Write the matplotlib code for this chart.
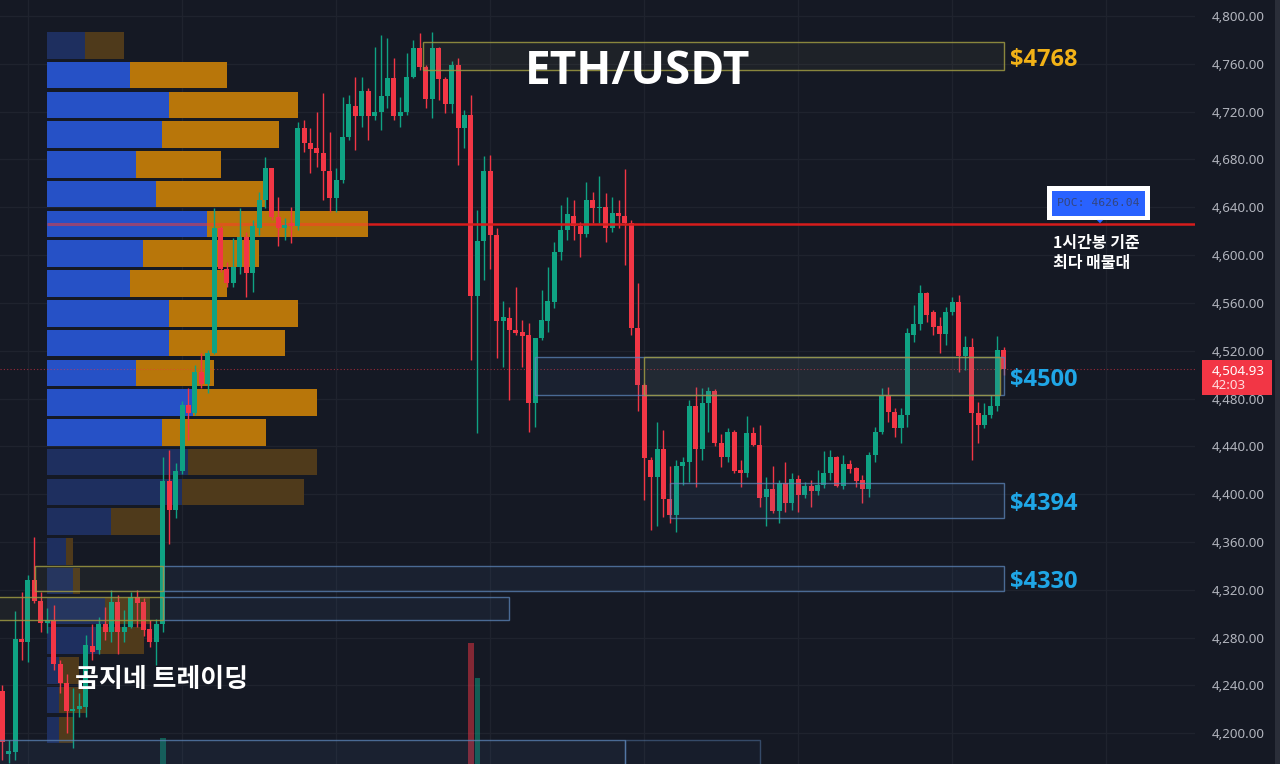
import numpy as np
import matplotlib
matplotlib.use("Agg")
import matplotlib.pyplot as plt
from matplotlib.patches import Rectangle, Polygon
from matplotlib import transforms

# ---------------- ETH/USDT hourly candles ----------------
opens = [4235, 4183, 4184, 4279, 4276, 4328, 4311, 4292, 4295, 4258,
         4242, 4219, 4220, 4222, 4273, 4270, 4291, 4285, 4310, 4285,
         4289, 4314, 4310, 4287, 4276, 4291, 4411, 4387, 4419, 4475,
         4468, 4502, 4492, 4518, 4623, 4588, 4577, 4590, 4615, 4585,
         4623, 4646, 4673, 4632, 4623, 4627, 4624, 4706, 4694, 4690,
         4685, 4670, 4648, 4663, 4699, 4725, 4716, 4737, 4716, 4720,
         4733, 4748, 4716, 4720, 4749, 4773, 4757, 4731, 4773, 4747,
         4726, 4759, 4706, 4717, 4566, 4612, 4670, 4617, 4545, 4547,
         4537, 4536, 4533, 4476, 4531, 4545, 4561, 4603, 4621, 4633,
         4624, 4618, 4646, 4639, 4640, 4623, 4635, 4633, 4627, 4539,
         4491, 4429, 4414, 4438, 4396, 4383, 4424, 4427, 4474, 4438,
         4476, 4486, 4443, 4431, 4452, 4420, 4418, 4451, 4441, 4398,
         4404, 4386, 4409, 4393, 4413, 4399, 4407, 4403, 4408, 4418,
         4431, 4407, 4425, 4422, 4412, 4404, 4433, 4452, 4483, 4469,
         4455, 4466, 4533, 4542, 4568, 4552, 4541, 4534, 4552, 4561,
         4516, 4523, 4468, 4458, 4466, 4474, 4521]
highs = [4240, 4194, 4302, 4318, 4332, 4364, 4318, 4305, 4307, 4261,
         4250, 4238, 4234, 4282, 4291, 4297, 4306, 4320, 4316, 4303,
         4318, 4320, 4313, 4295, 4296, 4431, 4437, 4426, 4478, 4489,
         4508, 4518, 4521, 4639, 4624, 4594, 4614, 4639, 4619, 4629,
         4653, 4682, 4673, 4649, 4631, 4640, 4711, 4713, 4706, 4720,
         4736, 4703, 4673, 4732, 4734, 4749, 4749, 4740, 4774, 4784,
         4782, 4765, 4732, 4769, 4780, 4786, 4759, 4787, 4774, 4749,
         4762, 4765, 4721, 4734, 4638, 4683, 4684, 4623, 4562, 4557,
         4573, 4546, 4543, 4531, 4571, 4590, 4611, 4642, 4649, 4646,
         4628, 4661, 4653, 4666, 4652, 4649, 4646, 4672, 4629, 4577,
         4493, 4431, 4460, 4454, 4424, 4429, 4431, 4479, 4490, 4489,
         4490, 4488, 4450, 4455, 4454, 4429, 4465, 4456, 4458, 4414,
         4424, 4412, 4427, 4418, 4416, 4410, 4412, 4420, 4436, 4437,
         4432, 4433, 4429, 4423, 4416, 4435, 4456, 4489, 4490, 4472,
         4472, 4539, 4558, 4575, 4569, 4554, 4548, 4557, 4565, 4567,
         4532, 4531, 4477, 4476, 4483, 4532, 4523]
lows = [4178, 4175, 4178, 4261, 4260, 4309, 4285, 4284, 4253, 4234,
        4200, 4188, 4214, 4214, 4261, 4266, 4278, 4276, 4266, 4276,
        4288, 4289, 4281, 4272, 4257, 4285, 4358, 4380, 4417, 4445,
        4466, 4489, 4485, 4517, 4586, 4573, 4573, 4584, 4565, 4569,
        4617, 4639, 4629, 4608, 4613, 4610, 4621, 4686, 4669, 4674,
        4646, 4636, 4636, 4660, 4696, 4688, 4707, 4696, 4713, 4705,
        4723, 4713, 4707, 4717, 4748, 4755, 4723, 4715, 4730, 4719,
        4719, 4675, 4690, 4512, 4451, 4579, 4588, 4514, 4506, 4479,
        4533, 4506, 4452, 4456, 4529, 4536, 4556, 4596, 4613, 4613,
        4598, 4615, 4627, 4627, 4611, 4619, 4623, 4592, 4533, 4470,
        4395, 4370, 4373, 4381, 4376, 4368, 4408, 4410, 4406, 4429,
        4452, 4440, 4423, 4427, 4418, 4406, 4414, 4440, 4389, 4373,
        4384, 4376, 4385, 4387, 4385, 4397, 4389, 4399, 4405, 4412,
        4406, 4404, 4418, 4406, 4393, 4398, 4427, 4450, 4460, 4448,
        4443, 4456, 4527, 4537, 4544, 4533, 4518, 4525, 4550, 4502,
        4504, 4429, 4443, 4455, 4464, 4470, 4500]
closes = [4193, 4185, 4279, 4276, 4328, 4311, 4292, 4295, 4258, 4242,
          4219, 4220, 4223, 4274, 4268, 4291, 4285, 4310, 4285, 4289,
          4314, 4309, 4286, 4276, 4291, 4411, 4387, 4419, 4475, 4468,
          4502, 4492, 4518, 4623, 4588, 4577, 4590, 4615, 4585, 4624,
          4646, 4673, 4632, 4623, 4625, 4624, 4706, 4694, 4689, 4685,
          4670, 4648, 4663, 4699, 4726, 4716, 4737, 4716, 4720, 4733,
          4748, 4716, 4720, 4749, 4773, 4757, 4731, 4773, 4747, 4726,
          4759, 4706, 4717, 4566, 4612, 4670, 4617, 4545, 4548, 4537,
          4535, 4532, 4476, 4531, 4546, 4562, 4603, 4621, 4634, 4624,
          4618, 4646, 4639, 4640, 4623, 4635, 4633, 4627, 4539, 4491,
          4430, 4414, 4438, 4396, 4383, 4424, 4427, 4474, 4438, 4476,
          4486, 4443, 4431, 4452, 4419, 4418, 4451, 4441, 4397, 4404,
          4386, 4409, 4393, 4413, 4399, 4407, 4403, 4408, 4418, 4431,
          4407, 4425, 4421, 4411, 4404, 4433, 4452, 4482, 4469, 4455,
          4466, 4535, 4542, 4568, 4550, 4540, 4534, 4552, 4561, 4516,
          4523, 4468, 4458, 4466, 4474, 4521, 4504.93]

# volume bars that reach into the visible window
vol_idx = [25, 73, 74]
vol_val = [62, 157, 122]

# ---------------- session volume profile ----------------
poc_price = 4626.04
vp_row_size = 24.9
vp_poc_row = 6
vp_buy = [38, 83, 122, 115, 89, 109, 160, 96, 83, 122, 122, 89,
          146, 115, 141, 135, 64, 19, 26, 58, 53, 12, 12, 12]
vp_sell = [39, 97, 129, 117, 85, 109, 161, 116, 97, 129, 116, 78,
           124, 104, 129, 122, 49, 7, 7, 45, 44, 20, 27, 14]
vp_value_area = [False] + [True] * 13 + [False] * 10

# ---------------- axis ticks ----------------
price_ticks = list(range(4200, 4801, 40))
day_ticks = [4, 28, 52, 76, 100, 124, 148, 172]

# ---------------- support / resistance zones ----------------
# (first candle, last candle, low, high, style)
zones = [
    (65.5, 156.0, 4754.8, 4778.2, "y"),
    (83.0, 156.0, 4482.9, 4514.8, "b"),
    (100.0, 155.5, 4482.9, 4514.8, "y"),
    (104.0, 156.0, 4379.9, 4409.6, "b"),
    (25.0, 156.0, 4319.0, 4339.9, "b"),
    (5.1, 25.0, 4319.0, 4339.9, "y"),
    (25.0, 78.9, 4294.7, 4314.0, "b"),
    (-1.0, 25.0, 4294.7, 4314.0, "y"),
    (-1.0, 97.0, 4150.0, 4194.4, "b"),
    (97.0, 118.0, 4150.0, 4194.4, "b2"),
]
zone_labels = ["$4768", "$4500", "$4394", "$4330"]
zone_label_rows = [0, 1, 3, 4]
zone_label_colors = ["#f2b217", "#1fa6e6", "#1fa6e6", "#1fa6e6"]

last_price = 4504.93
countdown = "42:03"

# ---------------- figure ----------------
W, H = 1280, 764
BG = "#151924"
UP, DOWN = "#0fa283", "#f23645"

fig = plt.figure(figsize=(W / 100, H / 100), dpi=100)
fig.patch.set_facecolor(BG)
rect = [0, 0, 1195 / W, 1]

ax_bg = fig.add_axes(rect)
ax = fig.add_axes(rect, sharex=ax_bg, sharey=ax_bg)
axp = fig.add_axes(rect, sharey=ax_bg)
axv = fig.add_axes(rect, sharex=ax_bg)
for z, a in enumerate([ax_bg, axp, axv, ax]):
    a.set_zorder(z)
    for s in a.spines.values():
        s.set_visible(False)
for a in [axp, axv, ax]:
    a.patch.set_visible(False)
ax_bg.set_facecolor(BG)

ax.set_xlim(-0.36, 185.8)
ax.set_ylim(4174.3, 4813.4)

# grid
ax_bg.set_xticks(day_ticks)
ax_bg.set_yticks(price_ticks)
ax_bg.grid(True, color="#1f232e", lw=1)
ax_bg.tick_params(left=False, right=False, bottom=False, top=False,
                  labelleft=False, labelbottom=False)

# right-hand price scale
ax.yaxis.tick_right()
ax.set_yticklabels([f"{v:,.2f}" for v in price_ticks])
ax.tick_params(axis="y", length=0, pad=12, labelsize=9.6,
               labelcolor="#b2b5be", labelright=True, labelleft=False)
for t in ax.get_yticklabels():
    t.set_family("Noto Sans")
ax.tick_params(axis="x", bottom=False, labelbottom=False)

# volume profile
axp.set_xlim(-47, 1148)
axp.axis("off")
centers = [poc_price + (vp_poc_row - k) * vp_row_size for k in range(len(vp_buy))]
buy_c = ["#2651c6" if v else "#1e2f5f" for v in vp_value_area]
sell_c = ["#b8760a" if v else "#4f3a1b" for v in vp_value_area]
axp.barh(centers, vp_buy, height=vp_row_size * 0.89, left=0, color=buy_c)
axp.barh(centers, vp_sell, height=vp_row_size * 0.89, left=vp_buy, color=sell_c)
poc_total = vp_buy[vp_poc_row] + vp_sell[vp_poc_row]
axp.hlines(poc_price, 0, poc_total, color="#ff3a2a", alpha=0.5, lw=2.2, zorder=5)

# volume histogram
axv.set_ylim(36, 800)
axv.axis("off")
vcol = [UP if closes[i] >= opens[i] else DOWN for i in vol_idx]
axv.bar(vol_idx, vol_val, width=0.85, color=vcol, alpha=0.5)

# candles
idx = np.arange(len(opens))
o, h, l, c = map(np.asarray, (opens, highs, lows, closes))
colors = np.where(c >= o, UP, DOWN)
ax.vlines(idx, l, h, colors=colors, lw=1.0, zorder=2)
body = np.maximum(np.abs(c - o), 1.4)
ax.bar(idx, body, bottom=np.minimum(o, c), width=0.78, color=colors, zorder=2.1)

# zones
style = {
    "y": dict(fc=(0.55, 0.55, 0.38, 0.08), ec=(0.62, 0.60, 0.26, 0.85)),
    "b": dict(fc=(0.30, 0.45, 0.70, 0.09), ec=(0.36, 0.52, 0.72, 0.75)),
    "b2": dict(fc=(0.30, 0.45, 0.70, 0.05), ec=(0.36, 0.52, 0.72, 0.45)),
}
for x0, x1, lo, hi, s in zones:
    ax.add_patch(Rectangle((x0, lo), x1 - x0, hi - lo, lw=1.0, zorder=3, **style[s]))

for txt, row, col in zip(zone_labels, zone_label_rows, zone_label_colors):
    x0, x1, lo, hi, _ = zones[row]
    ax.text(157.0, (lo + hi) / 2 - 3.0, txt, color=col, fontsize=17, fontweight="bold",
            family="Open Sans", ha="left", va="center", zorder=5)

# POC line across the chart
d2d = axp.transData.transform((poc_total, poc_price))
x_poc_end = ax.transData.inverted().transform(d2d)[0]
ax.hlines(poc_price, x_poc_end, 185.8, color="#d61c1c", lw=1.8, zorder=4)

# last price line and tag
ax.axhline(last_price, color=DOWN, lw=0.8, ls=(0, (1, 2)), alpha=0.6, zorder=1.5)
tr = transforms.blended_transform_factory(ax.transAxes, ax.transData)
ax.add_patch(Rectangle((1202 / 1195, last_price - 21.6), 70 / 1195, 29.3,
                       transform=tr, fc=DOWN, ec="none", clip_on=False, zorder=6))
ax.text(1212 / 1195, last_price - 2.5, f"{last_price:,.2f}", transform=tr, color="white",
        fontsize=9.6, family="Noto Sans", fontweight="medium", ha="left", va="center",
        clip_on=False, zorder=7)
ax.text(1212 / 1195, last_price - 13.6, countdown, transform=tr, color="#ffdde0",
        fontsize=9.6, family="Noto Sans", ha="left", va="center", clip_on=False, zorder=7)

# POC tag
ax.add_patch(Rectangle((162.7, 4629.4), 16.1, 28.4, fc="white", ec="none", zorder=6))
ax.add_patch(Rectangle((163.5, 4632.7), 14.5, 21.2, fc="#2962ff", ec="none", zorder=6.1))
ax.add_patch(Polygon([(170.5, 4629.4), (171.5, 4629.4), (171.0, 4626.6)],
                     closed=True, fc="#2962ff", ec="none", zorder=6.1))
ax.text(170.75, 4643.3, f"POC: {poc_price:.2f}", color="#34467e", fontsize=8.2,
        family="DejaVu Sans Mono", ha="center", va="center", zorder=7)
ax.text(163.7, 4610.5, "1시간봉 기준", color="white", fontsize=11.5, fontweight="bold",
        family="Noto Sans CJK KR", ha="left", va="center", zorder=7)
ax.text(163.7, 4593.8, "최다 매물대", color="white", fontsize=11.5, fontweight="bold",
        family="Noto Sans CJK KR", ha="left", va="center", zorder=7)

# titles
ax.text(98.9, 4753.5, "ETH/USDT", color="white", fontsize=33, fontweight="bold",
        family="Open Sans", ha="center", va="center", zorder=7)
ax.text(11.3, 4244.6, "곰지네 트레이딩", color="white", fontsize=18.7, fontweight="bold",
        family="Noto Sans CJK KR", ha="left", va="center", zorder=7)

# right edge strip
fig.patches.append(Rectangle((1275 / W, 0), 5 / W, 1, transform=fig.transFigure,
                             fc="#2a2e39", ec="none"))

fig.savefig("out.png", dpi=100, facecolor=BG)
